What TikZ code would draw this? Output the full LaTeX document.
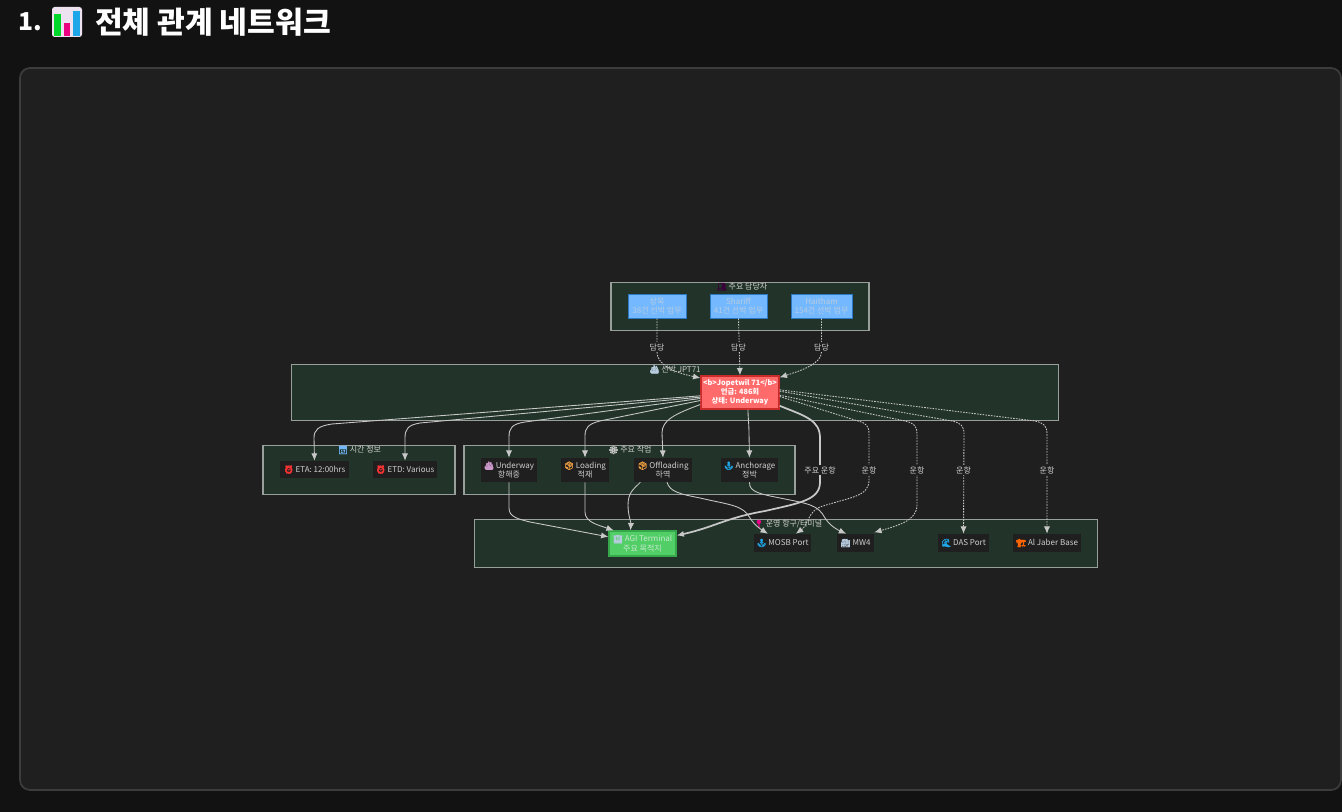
\documentclass[tikz,border=0pt]{standalone}
\usepackage{fontspec}
\setmainfont{Noto Sans CJK KR}
\newfontfamily\emojifont[FakeBold=1.5]{Noto Emoji}
\usetikzlibrary{arrows.meta}
\definecolor{pagebg}{HTML}{121212}
\definecolor{panelbg}{HTML}{1F1F1F}
\definecolor{panelln}{HTML}{3C3C3C}
\definecolor{groupbg}{HTML}{223429}
\definecolor{groupln}{HTML}{999F9A}
\definecolor{edgec}{HTML}{C8C8C8}
\definecolor{txt}{HTML}{CFCFCF}
\definecolor{HTMLblue}{HTML}{2B78C5}
\definecolor{HTMLsky}{HTML}{74B9FF}
\definecolor{HTMLdim}{HTML}{B8CCE0}
\definecolor{hubfill}{HTML}{FF6B6B}
\definecolor{hubline}{HTML}{C92A2A}
\definecolor{agifill}{HTML}{51CF66}
\definecolor{agiline}{HTML}{37A74B}
\definecolor{agitext}{HTML}{C8E8D0}
\definecolor{anchorc}{HTML}{1EA7E8}
\definecolor{boxc}{HTML}{F0A040}
\newcommand{\emo}[2]{{\emojifont\color{#1}#2}}
\tikzset{
  x=0.75pt,y=-0.75pt,
  every node/.style={font=\fontsize{6}{6.9}\selectfont,text=txt,align=center,inner sep=0pt},
  groupbox/.style={draw=groupln,fill=groupbg,line width=0.9pt},
  grouptitle/.style={font=\fontsize{6}{7}\selectfont,text=txt},
  personbox/.style={draw=HTMLblue,fill=HTMLsky,line width=0.7pt,text=HTMLdim},
  darkbox/.style={fill=panelbg},
  flow/.style={draw=edgec,line width=0.65pt,-{Latex[length=5.5pt,width=4.6pt]}},
  flowdash/.style={flow,dash pattern=on 1.2pt off 0.9pt},
  flowmain/.style={flow,line width=1.3pt,-{Latex[length=5.5pt,width=4.6pt]}},
  edgelabel/.style={fill=panelbg,inner xsep=1pt,inner ysep=1pt},
}
\begin{document}
\begin{tikzpicture}
\useasboundingbox (0,0) rectangle (1342,812);
\fill[pagebg] (0,0) rectangle (1342,812);
\draw[panelln,fill=panelbg,line width=1.3pt,rounded corners=7.5pt] (20,68) rectangle (1341,790);

% title
\node[anchor=west,font=\fontsize{18.5}{24}\selectfont\bfseries,text=white] (titlenum) at (18,22) {1.};
\node[anchor=west,font=\fontsize{22.6}{24}\selectfont\bfseries,text=white] (titletext) at (95,22) {전체 관계 네트워크};
\fill[HTMLdim!30!violet!15!white,rounded corners=2pt] (52,7) rectangle (82,37);
\fill[green!80!cyan!85!black] (54,14) rectangle (60.7,36);
\fill[magenta!90!red] (64,23) rectangle (70,36);
\fill[anchorc] (73,11) rectangle (79.5,36);

% groups
\node[groupbox,minimum width=193.5pt,minimum height=36pt] (gpeople) at (740,306.5) {};
\node[groupbox,minimum width=575.25pt,minimum height=42pt] (gship) at (675.3,392.5) {};
\node[groupbox,minimum width=144pt,minimum height=36.75pt] (gtime) at (359,470) {};
\node[groupbox,minimum width=248.25pt,minimum height=36.75pt] (gwork) at (629.5,470) {};
\node[groupbox,minimum width=467.25pt,minimum height=36pt] (gports) at (786.3,543.5) {};

\node[grouptitle] (tpeople) at (742,286.5) {\emo{violet!45!black}{👥} 주요 담당자};
\node[grouptitle] (tship) at (675,369.5) {\emo{HTMLdim}{🚢} 선박 JPT71};
\node[grouptitle] (ttime) at (359.5,450) {\emo{HTMLsky}{📅} 시간 정보};
\node[grouptitle] (twork) at (630,450) {\emo{txt}{⚙} 주요 작업};
\node[grouptitle] (tports) at (788,524) {\emo{magenta}{📍} 운영 항구/터미널};

% people
\node[personbox,minimum width=43.5pt,minimum height=18pt] (p1) at (657,306) {상욱\\38건 선박 업무};
\node[personbox,minimum width=42.75pt,minimum height=18pt] (p2) at (738.5,306) {Shariff\\41건 선박 업무};
\node[personbox,minimum width=45.75pt,minimum height=18pt] (p3) at (821.5,306) {Haitham\\154건 선박 업무};

% hub
\node[draw=hubline,fill=hubfill,line width=1pt,minimum width=58.5pt,minimum height=24.75pt,text=white,font=\fontsize{5.5}{6.6}\selectfont\bfseries] (hub) at (740,392.5) {<b>Jopetwil 71</b>\\언급: 486회\\상태: Underway};

% time
\node[darkbox,minimum width=51.75pt,minimum height=12.75pt] (eta) at (314.5,469.5) {\emo{red!80!white}{⏰} ETA: 12:00hrs};
\node[darkbox,minimum width=48pt,minimum height=12.75pt] (etd) at (405,469.5) {\emo{red!80!white}{⏰} ETD: Various};

% work
\node[darkbox,minimum width=42pt,minimum height=18pt] (w1) at (509,470) {\emo{red!50!blue!40!white}{🚢} Underway\\항해중};
\node[darkbox,minimum width=36pt,minimum height=18pt] (w2) at (585,470) {\emo{boxc}{📦} Loading\\적재};
\node[darkbox,minimum width=43.5pt,minimum height=18pt] (w3) at (663,470) {\emo{boxc}{📦} Offloading\\하역};
\node[darkbox,minimum width=42.75pt,minimum height=18pt] (w4) at (749.5,470) {\emo{anchorc}{⚓} Anchorage\\정박};

% ports
\node[draw=agiline,fill=agifill,line width=0.9pt,minimum width=50.25pt,minimum height=18.75pt,text=agitext] (agi) at (642.5,543.5) {\emo{HTMLdim}{🏢} AGI Terminal\\주요 목적지};
\node[darkbox,minimum width=42.75pt,minimum height=13.5pt] (mosb) at (782.5,543) {\emo{anchorc}{⚓} MOSB Port};
\node[darkbox,minimum width=27.75pt,minimum height=13.5pt] (mw4) at (855.5,543) {\emo{HTMLdim}{🏭} MW4};
\node[darkbox,minimum width=38.25pt,minimum height=13.5pt] (das) at (963.5,543) {\emo{anchorc}{🌊} DAS Port};
\node[darkbox,minimum width=51pt,minimum height=13.5pt] (jaber) at (1047,543) {\emo{orange!80!red}{🏗} Al Jaber Base};

% hub fan to time and work
\draw[flow] ([yshift=-2.5pt]hub.west) -- (332,424) .. controls (318,426) and (314,430) .. (314,438) -- (eta.north);
\draw[flow] ([yshift=-3.5pt]hub.west) -- (420,423) .. controls (408,425) and (405,429) .. (405,438) -- (etd.north);
\draw[flow] ([yshift=-4.5pt]hub.west) -- (525,422) .. controls (512,424) and (509,428) .. (509,437) -- (w1.north);
\draw[flow] ([yshift=-6pt]hub.west) -- (600,421) .. controls (588,424) and (585,428) .. (585,436) -- (w2.north);
\draw[flow] ([yshift=-9pt]hub.west) .. controls (675,414) and (662,420) .. (662,433) -- (w3.north);
\draw[flow] ([xshift=6pt]hub.south) .. controls (748,418) and (749,424) .. (749,434) -- (w4.north);

% people to hub
\draw[flowdash] (p1.south) -- (657,352) .. controls (657,364) and (672,372) .. ([yshift=-2pt]hub.north west);
\draw[flowdash] (p2.south) -- (hub.north);
\draw[flowdash] (p3.south) -- (821.5,352) .. controls (821.5,364) and (800,371) .. ([yshift=-1.5pt]hub.north east);

% main route
\draw[flowmain] ([yshift=-10pt]hub.east) .. controls (805,416) and (820,420) .. (820,438) -- (820,482) .. controls (820,500) and (800,503) .. (765,511) .. controls (725,518) and (715,527) .. ([yshift=6pt]agi.east);
\node[edgelabel] (lmain) at (820,470) {주요 운항};

% hub dashed to ports
\draw[flowdash] ([yshift=-3pt]hub.east) -- (858,421) .. controls (866,423) and (869,426) .. (869,434) -- (869,480) .. controls (869,497) and (850,497) .. (820,507) .. controls (808,512) and (808,525) .. ([xshift=10pt]mosb.north);
\node[edgelabel] (l1) at (869,470) {운항};
\draw[flowdash] ([yshift=-2pt]hub.east) -- (905,421) .. controls (914,423) and (917,426) .. (917,434) -- (917,505) .. controls (917,520) and (900,525) .. ([yshift=1pt]mw4.north east);
\node[edgelabel] (l2) at (917,470) {운항};
\draw[flowdash] ([yshift=1pt]hub.east) -- (952,421) .. controls (961,423) and (964,426) .. (964,434) -- (das.north);
\node[edgelabel] (l3) at (963.5,470) {운항};
\draw[flowdash] ([yshift=2pt]hub.east) -- (1035,421) .. controls (1044,423) and (1047,426) .. (1047,434) -- (jaber.north);
\node[edgelabel] (l4) at (1047,470) {운항};

% people labels
\node[edgelabel] (lp1) at (657,347) {담당};
\node[edgelabel] (lp2) at (738.5,347) {담당};
\node[edgelabel] (lp3) at (821.5,347) {담당};

% work to ports
\draw[flow] (w1.south) -- (509,508) .. controls (509,517) and (518,519) .. (530,522) -- ([yshift=5pt]agi.west);
\draw[flow] (w2.south) -- (585,512) .. controls (585,522) and (598,525) .. ([xshift=4pt]agi.north west);
\draw[flow] ([xshift=-17pt]w3.south) .. controls (634,489) and (628,492) .. (628,505) .. controls (628,515) and (631,522) .. ([xshift=-9pt]agi.north);
\draw[flow] ([xshift=3pt]w3.south) .. controls (670,492) and (680,494) .. (700,498) .. controls (730,505) and (743,505) .. (750,518) .. controls (755,526) and (762,530) .. ([xshift=-11pt]mosb.north);
\draw[flow] (w4.south) .. controls (749,492) and (760,494) .. (780,498) .. controls (810,504) and (818,505) .. (825,518) .. controls (830,526) and (838,530) .. ([xshift=-7pt]mw4.north);
\end{tikzpicture}
\end{document}
